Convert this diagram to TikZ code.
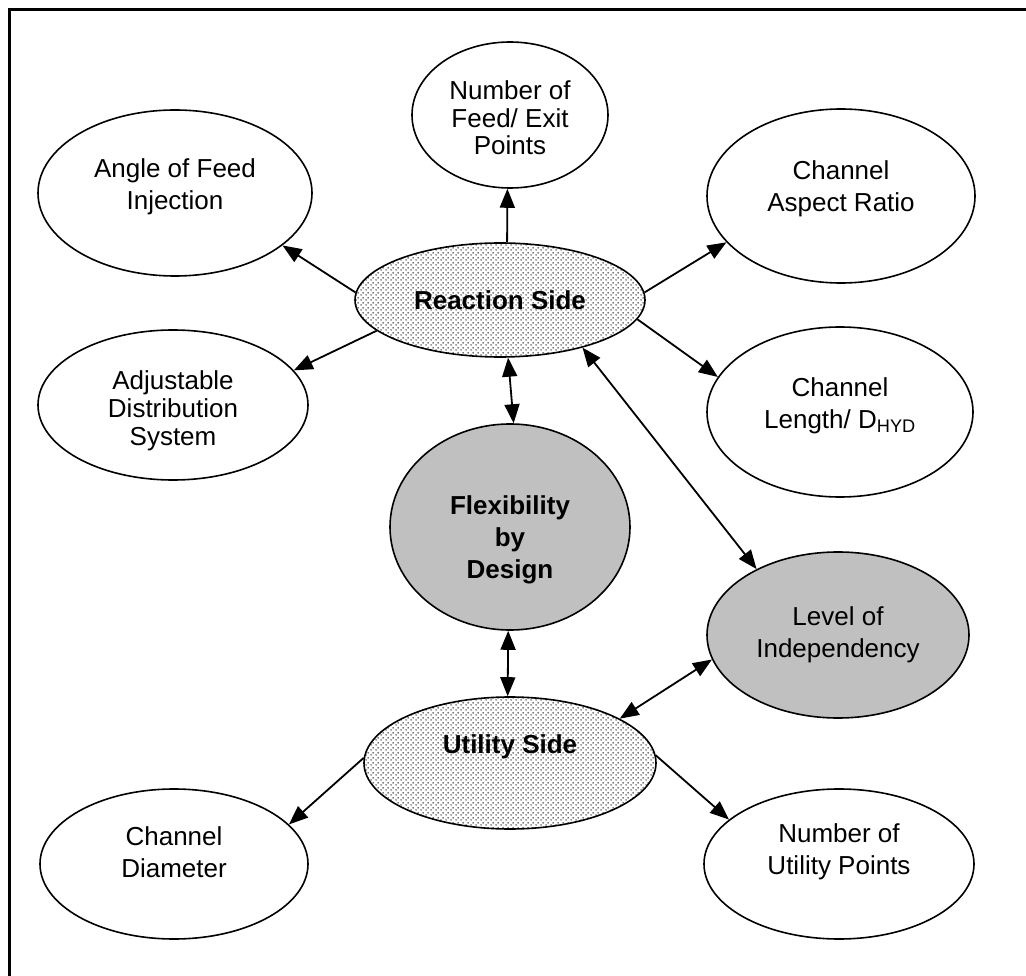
\documentclass[tikz,border=0pt]{standalone}
\usepackage{fontspec}
\setmainfont{Liberation Sans}
\usetikzlibrary{shapes.geometric,arrows.meta,patterns}
\pgfdeclarepatternformonly{wdots}{\pgfpointorigin}{\pgfpoint{5pt}{5pt}}{\pgfpoint{5pt}{5pt}}{%
  \pgfpathcircle{\pgfpoint{1.25pt}{1.25pt}}{0.95pt}%
  \pgfpathcircle{\pgfpoint{3.75pt}{3.75pt}}{0.95pt}%
  \pgfusepath{fill}}
\definecolor{wgray}{RGB}{192,192,192}
\definecolor{dotc}{RGB}{70,70,70}
\begin{document}
\begin{tikzpicture}[x=1pt,y=-1pt,
  bub/.style={ellipse, draw, line width=1.6pt, inner sep=0pt, align=center,
    font=\fontsize{26}{32}\selectfont},
  greybub/.style={bub, fill=wgray},
  dotbub/.style={bub, pattern=wdots, pattern color=dotc},
  txt/.style={align=center, inner sep=0pt, font=\fontsize{26}{32}\selectfont},
  btxt/.style={txt, font=\fontsize{26}{32}\selectfont\bfseries},
  conn/.style={line width=1.8pt, -{Triangle[length=19pt,width=15pt]}},
  dconn/.style={line width=1.8pt, {Triangle[length=19pt,width=15pt]}-{Triangle[length=19pt,width=15pt]}}]
\useasboundingbox (0,0) rectangle (1026,976);
\fill[white] (0,0) rectangle (1026,976);
\draw[line width=3pt] (9.5,990) -- (9.5,9.5) -- (1040,9.5);

\node[bub, minimum width=196pt, minimum height=146pt,
  label={[txt, font=\fontsize{26}{27.5}\selectfont, yshift=-3pt]center:Number of\\Feed/ Exit\\Points}] (np) at (510,115) {};
\node[bub, minimum width=274pt, minimum height=166pt,
  label={[txt, yshift=6pt]center:Angle of Feed\\Injection}] (ag) at (175,193) {};
\node[bub, minimum width=268pt, minimum height=174pt,
  label={[txt, yshift=7pt]center:Channel\\Aspect Ratio}] (ca) at (841,196) {};
\node[bub, minimum width=270pt, minimum height=150pt] (ad) at (173,405) {};
\begin{scope}
  \clip (ad.center) ++(-125,-62) rectangle ++(250,112);
  \node[txt, font=\fontsize{26}{28}\selectfont] (adt) at ([yshift=-6pt]ad.center) {Adjustable\\Distribution\\System};
\end{scope}
\node[bub, minimum width=266pt, minimum height=170pt,
  label={[txt, yshift=6pt]center:Channel\\Length/ D\textsubscript{HYD}}] (cl) at (840,412) {};
\node[dotbub, minimum width=290pt, minimum height=114pt, font=\fontsize{26}{32}\selectfont\bfseries] (rs) at (500,300) {Reaction Side};
\node[greybub, minimum width=240pt, minimum height=206pt,
  label={[btxt, yshift=-13pt]center:Flexibility\\by\\Design}] (fd) at (510,527) {};
\node[greybub, minimum width=262pt, minimum height=166pt] (li) at (838,635) {Level of\\Independency};
\node[dotbub, minimum width=292pt, minimum height=132pt,
  label={[btxt, yshift=16pt]center:Utility Side}] (us) at (510,763) {};
\node[bub, minimum width=268pt, minimum height=150pt,
  label={[txt, yshift=12pt]center:Channel\\Diameter}] (cd) at (174,864) {};
\node[bub, minimum width=270pt, minimum height=150pt,
  label={[txt, yshift=12pt]center:Number of\\Utility Points}] (nu) at (839,864) {};

\draw[conn] (rs.83) -- (np.-92);
\draw[conn] (rs.177) -- (ag.-26);
\draw[conn] (rs.194) -- (ad.16);
\draw[conn] (rs.3) -- (ca.202);
\draw[conn] (rs.-8) -- (cl.164);
\draw[dconn] (rs.-82) -- (fd.88);
\draw[dconn] (rs.-30) -- (li.141);
\draw[dconn] (fd.-91) -- (us.92);
\draw[dconn] (us.22) -- (li.191);
\draw[conn] (us.178) -- (cd.19);
\draw[conn] (us.3) -- (nu.158);
\end{tikzpicture}
\end{document}
